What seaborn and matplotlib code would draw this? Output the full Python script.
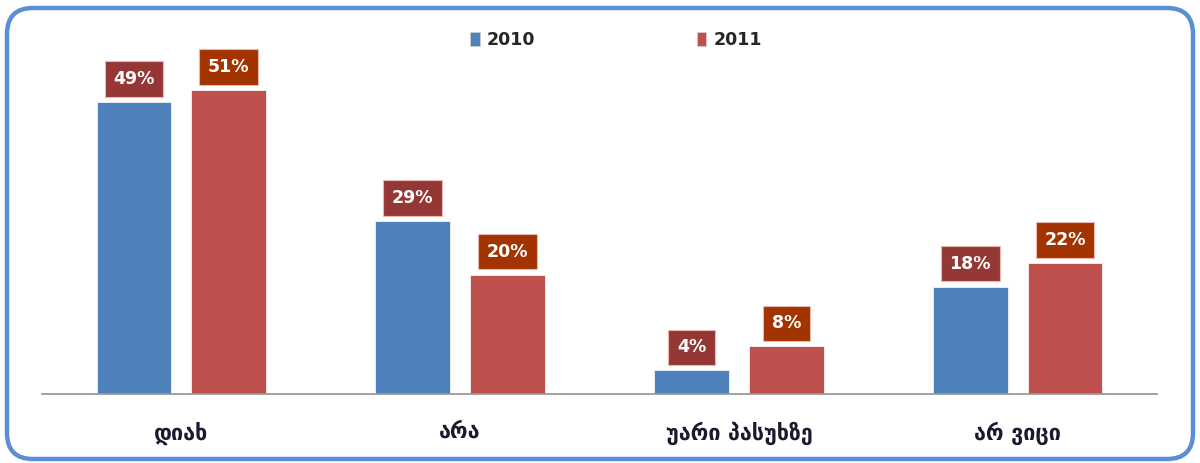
import matplotlib
matplotlib.use("Agg")
import matplotlib.pyplot as plt
from matplotlib.patches import FancyBboxPatch, Patch
import seaborn as sns
import pandas as pd

# Survey answers, share of respondents by year
categories = ["დიახ", "არა", "უარი პასუხზე", "არ ვიცი"]
years = ["2010", "2011"]
values_2010 = [49, 29, 4, 18]
values_2011 = [51, 20, 8, 22]

bar_colors = {"2010": "#4F81BD", "2011": "#C0504D"}
label_colors = {"2010": "#953735", "2011": "#A33400"}

df = pd.DataFrame({
    "category": categories * 2,
    "year": [years[0]] * len(categories) + [years[1]] * len(categories),
    "value": values_2010 + values_2011,
})

sns.set_theme(style="white")
plt.rcParams["font.family"] = ["DejaVu Sans"]

W, H = 1200, 463
fig = plt.figure(figsize=(W / 100, H / 100), dpi=100)

# Rounded frame around the whole chart, drawn in pixel coordinates
bg = fig.add_axes([0, 0, 1, 1], zorder=0)
bg.set_xlim(0, W)
bg.set_ylim(H, 0)
bg.axis("off")
frame = FancyBboxPatch((7, 8), 1186, 451,
                       boxstyle="round,pad=0,rounding_size=26",
                       facecolor="white", edgecolor="#5A8FD6", linewidth=3.2)
bg.add_patch(frame)

ax = fig.add_axes([42 / W, 1 - 394 / H, 1115 / W, 334 / H], zorder=1)
ax.patch.set_alpha(0)

sns.barplot(data=df, x="category", y="value", hue="year", order=categories,
            hue_order=years, palette=bar_colors, saturation=1, width=0.68,
            gap=0.21, edgecolor="#f2f2f2", linewidth=0.6, legend=False, ax=ax)

ax.set_xlim(-0.5, 3.5)
ax.set_ylim(0, 56.0)
ax.set_xlabel("")
ax.set_ylabel("")
ax.set_yticks([])
for side in ["left", "right", "top"]:
    ax.spines[side].set_visible(False)
ax.spines["bottom"].set_color("#9a9a9a")
ax.spines["bottom"].set_linewidth(1.3)
ax.tick_params(axis="x", length=0, pad=20)
for t in ax.get_xticklabels():
    t.set_fontsize(15.5)
    t.set_fontweight("bold")
    t.set_color("#1a1a2e")

# Value labels in filled boxes above every bar
for container, year in zip(ax.containers, years):
    for bar, val in zip(container, df.loc[df["year"] == year, "value"]):
        ax.annotate(f"{val}%",
                    xy=(bar.get_x() + bar.get_width() / 2, bar.get_height()),
                    xytext=(0, 16.5), textcoords="offset points",
                    ha="center", va="center", fontsize=12.5, fontweight="bold",
                    color="white",
                    bbox=dict(boxstyle="square,pad=0.5",
                              facecolor=label_colors[year],
                              edgecolor="#e7b9b0", linewidth=0.8))

handles = [Patch(facecolor=bar_colors[y], edgecolor="#d0d0d0", linewidth=0.5)
           for y in years]
fig.legend(handles, years, loc="center", bbox_to_anchor=(616 / W, 1 - 40 / H),
           ncol=2, frameon=False, handlelength=0.55, handleheight=0.9,
           handletextpad=0.4, columnspacing=9.3,
           prop={"weight": "bold", "size": 12.5})

fig.savefig("out.png", dpi=100)
